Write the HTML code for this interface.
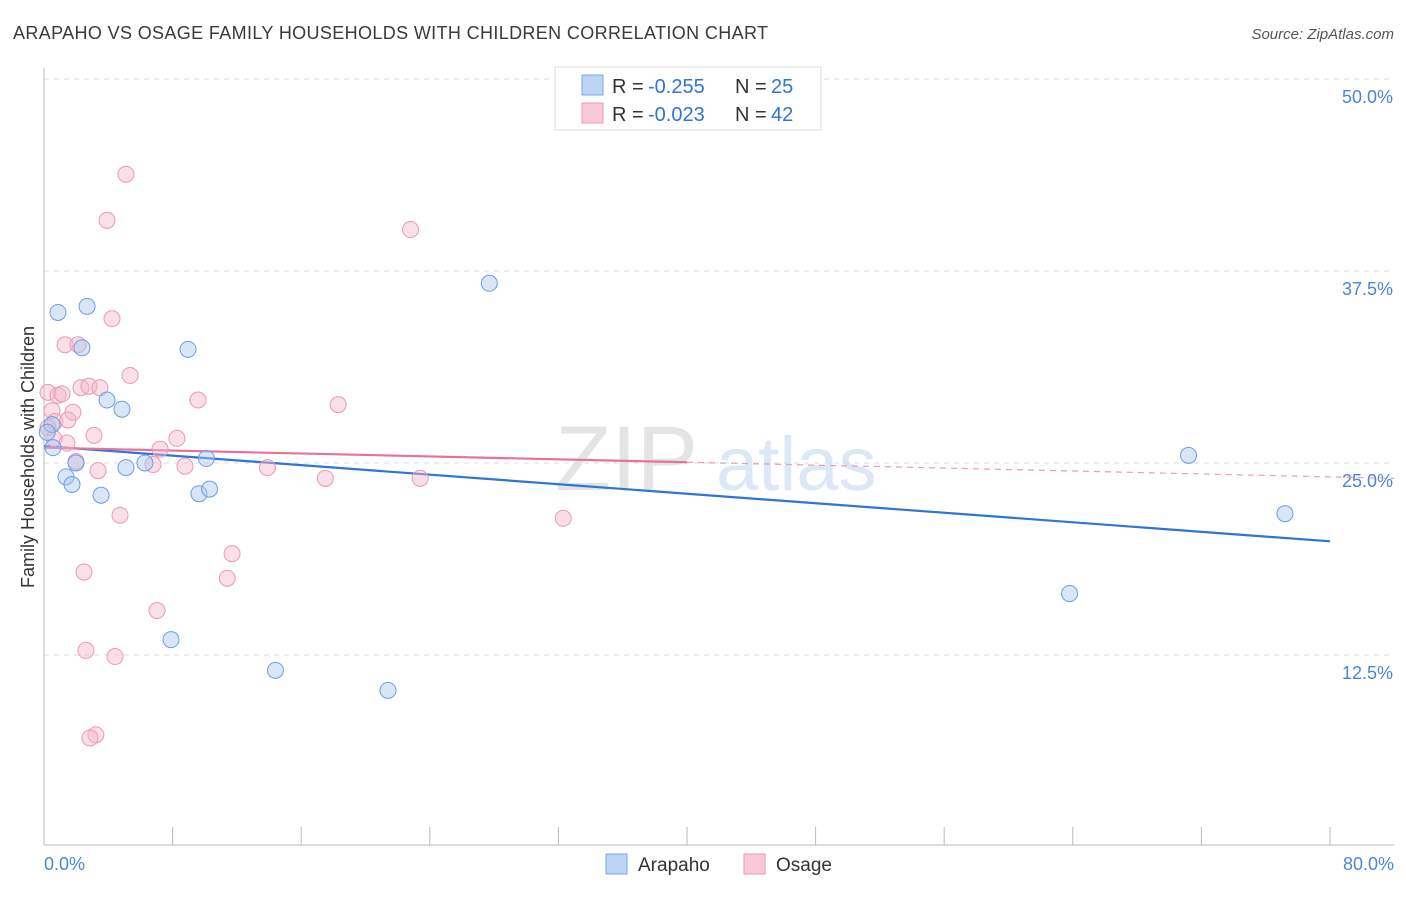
<!DOCTYPE html>
<html><head><meta charset="utf-8">
<style>
body{margin:0;background:#fff;width:1406px;height:892px;overflow:hidden;font-family:"Liberation Sans",sans-serif}
svg text{font-family:"Liberation Sans",sans-serif}
</style></head>
<body>
<svg id="chart" width="1406" height="892" xmlns="http://www.w3.org/2000/svg">
<text x="13" y="39" font-size="18" fill="#3a3a3a" textLength="755" lengthAdjust="spacing">ARAPAHO VS OSAGE FAMILY HOUSEHOLDS WITH CHILDREN CORRELATION CHART</text>
<text x="1394" y="39" font-size="15" fill="#555" text-anchor="end" font-style="italic">Source: ZipAtlas.com</text>
<g>
<text x="555" y="490" font-size="92" fill="#e4e4e4" font-family="Liberation Serif,serif">ZIP</text>
<text x="716" y="490" font-size="76" fill="#dce8f6">atlas</text>
</g>
<g id="grid"></g>
<g id="axes"></g>
<g id="trends"></g>
<g id="points"></g>
<text transform="translate(34,457) rotate(-90)" font-size="18" fill="#333" text-anchor="middle">Family Households with Children</text>
<g>
<rect x="555" y="67" width="266" height="63" fill="#fff" stroke="#ddd"/>
<rect x="582" y="75" width="21" height="20" fill="#bcd5f5" stroke="#7aa7e3"/>
<rect x="582" y="103" width="21" height="20" fill="#f9c9d8" stroke="#eb9ab5"/>
<text x="612" y="93" font-size="20" fill="#333">R =</text>
<text x="648" y="93" font-size="20" fill="#2f74d6">-0.255</text>
<text x="735" y="93" font-size="20" fill="#333">N =</text>
<text x="771" y="93" font-size="20" fill="#2f74d6">25</text>
<text x="612" y="121" font-size="20" fill="#333">R =</text>
<text x="648" y="121" font-size="20" fill="#2f74d6">-0.023</text>
<text x="735" y="121" font-size="20" fill="#333">N =</text>
<text x="771" y="121" font-size="20" fill="#2f74d6">42</text>
</g>
<g>
<rect x="606" y="854" width="21" height="20" fill="#bcd5f5" stroke="#7aa7e3"/>
<text x="638" y="871" font-size="19" fill="#333">Arapaho</text>
<rect x="744" y="854" width="21" height="20" fill="#f9c9d8" stroke="#eb9ab5"/>
<text x="776" y="871" font-size="19" fill="#333">Osage</text>
</g>
</svg>
<script>
const arapahoX=[0.87,2.68,2.36,8.96,27.7,3.92,4.85,0.56,1.99,1.37,1.74,5.10,6.28,10.1,3.55,9.64,10.3,71.2,77.2,63.8,7.90,14.4,21.4,0.5,0.2];
const arapahoY=[34.8,35.2,32.5,32.4,36.7,29.1,28.5,26.0,25.0,24.1,23.6,24.7,25.0,25.3,22.9,23.0,23.3,25.5,21.7,16.5,13.5,11.5,10.2,27.5,27.0];
const osageX=[5.10,3.92,22.8,4.23,1.31,2.12,5.35,0.25,0.87,1.12,2.30,2.80,3.48,9.58,18.3,0.5,1.80,0.68,1.49,0.25,3.11,8.27,0.62,1.43,7.22,1.99,6.78,8.77,3.36,13.9,17.5,23.4,4.73,32.3,11.7,11.4,2.49,7.03,2.61,4.42,3.23,2.86];
const osageY=[43.8,40.8,40.2,34.4,32.7,32.7,30.7,29.6,29.4,29.5,29.9,30.0,29.9,29.1,28.8,28.4,28.3,27.7,27.8,27.3,26.8,26.6,26.6,26.3,25.9,25.1,24.9,24.8,24.5,24.7,24.0,24.0,21.6,21.4,19.1,17.5,17.9,15.4,12.8,12.4,7.3,7.1];
const yTicks=[12.5,25.0,37.5,50.0];
const yTickLabels=["12.5%","25.0%","37.5%","50.0%"];
const xTickLabels=["0.0%","80.0%"];
const arapahoTrend=[26.1,19.9];
const osageTrend=[26.0,24.0];
const NS="http://www.w3.org/2000/svg";
const X=v=>44+v/80*1286, Y=v=>847-v/12.5*192;
function mk(tag,parent,attrs){const e=document.createElementNS(NS,tag);for(const k in attrs)e.setAttribute(k,attrs[k]);document.getElementById(parent).appendChild(e);return e;}
yTicks.forEach((t,i)=>{
 const l=mk('line','grid',{x1:44,x2:1394,y1:Y(t),y2:Y(t),stroke:'#ddd','stroke-dasharray':'5,5'});
 
 
 const tx=mk('text','axes',{x:1393,y:Y(t)+24,'font-size':18,fill:'#4a86d8','text-anchor':'end'});
 tx.textContent=yTickLabels[i];
 
 
});
const ax=mk('line','axes',{x1:44,x2:1394,y1:845,y2:845,stroke:'#bbb'});


const ay=mk('line','axes',{x1:44,x2:44,y1:68,y2:845,stroke:'#bbb'});


for(let i=0;i<=10;i++){const t=mk('line','axes',{x1:X(i*8),x2:X(i*8),y1:827,y2:845,stroke:'#bbb'});
 
 }
[[0,'start',44],[80,'end',1394]].forEach((d,i)=>{const t=mk('text','axes',{x:d[2],y:870,'font-size':18,fill:'#4a86d8','text-anchor':d[1]});t.textContent=xTickLabels[i];
 
 });
const bl=mk('line','trends',{x1:X(0),y1:Y(arapahoTrend[0]),x2:X(80),y2:Y(arapahoTrend[1]),stroke:'#2f74d6','stroke-width':2.2});


const os=(v)=>osageTrend[0]+(osageTrend[1]-osageTrend[0])*v/84;
const pl=mk('line','trends',{x1:X(0),y1:Y(os(0)),x2:X(40),y2:Y(os(40)),stroke:'#e8709a','stroke-width':2.2});


const pd=mk('line','trends',{x1:X(40),y1:Y(os(40)),x2:X(84),y2:Y(os(84)),stroke:'#e8a0b8','stroke-width':1.2,'stroke-dasharray':'6,5'});


osageX.forEach((x,i)=>{const c=mk('circle','points',{cx:X(x),cy:Y(osageY[i]),r:8,fill:'rgba(244,184,203,0.45)',stroke:'#e99ab4','stroke-width':1});
 
 });
arapahoX.forEach((x,i)=>{const c=mk('circle','points',{cx:X(x),cy:Y(arapahoY[i]),r:8,fill:'rgba(169,200,240,0.45)',stroke:'#6c9ee0','stroke-width':1});
 
 });
</script>
</body></html>
